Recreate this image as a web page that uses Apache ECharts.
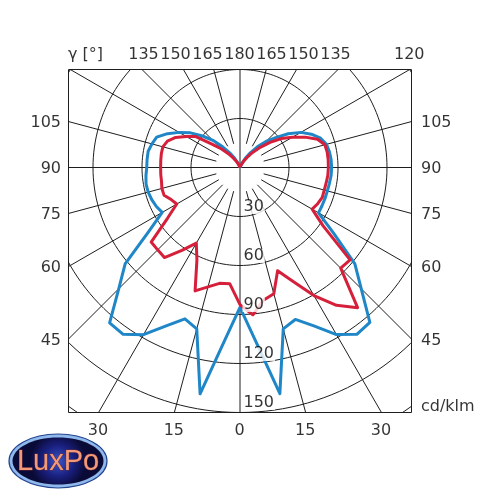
<!DOCTYPE html>
<html>
<head>
<meta charset="utf-8">
<script src="https://cdn.jsdelivr.net/npm/echarts@6/dist/echarts.min.js"></script>
<style>
html,body{margin:0;padding:0;background:#ffffff;}
#chart{width:500px;height:500px;}
</style>
</head>
<body>
<div id="chart"></div>
<script>
// ---- data (cd/klm vs gamma angle, degrees) ----
const gammaDeg = [0,5,10,15,20,25,30,35,40,45,50,55,60,65,70,75,80,85,90,95,100,105,110,115,120,125,130,135,140,145,150,155,160,165,170,175,180];
// blue plane, left half (C180) and right half (C0)
const blueLeft  = [85.7,106,140.7,102.3,98.6,107,118.2,124.7,124.2,105,91.8,68,55,56.5,57.5,58.2,58.4,57.8,57.1,57.1,57.1,55.8,54.3,49,43,37,30,23.5,16.5,11,6.5,3,1.5,0.5,0,0,0];
const blueRight = [85.7,106,140.6,102.3,99,107,118.1,124.7,123.7,105,91.8,69.8,55.5,55.4,55.4,55.4,55.6,56,56.1,56,55.6,54.8,52.5,48.2,43,36,28.5,22.5,16.5,11,6.5,3,1.5,0.5,0,0,0];
// red plane, left half (C270) and right half (C90)
const redLeft   = [84,71.5,72,75.7,80.4,62.4,53.5,62,72,71.3,71,54.2,44.7,46.5,49.5,49.5,48.8,48.7,48.6,48.7,48.9,48.9,47.3,43.5,38,33,22,16,11,7,4,2,1,0.3,0,0,0];
const redRight  = [84,90.5,82.5,80,67.3,77,90.5,103,112,87.2,88,62,51,52.5,53.6,53.4,53.6,54,54.1,54.2,54.2,53.8,50.5,44,37,31,24,17.5,12,7.5,4.5,2,1,0.3,0,0,0];

const ringValues = [30,60,90,120,150,180];
const ringLabelValues = [30,60,90,120,150];
const spokeAngles = [15,30,45,60,75,105,120,135,150,165,-15,-30,-45,-60,-75,-105,-120,-135,-150,-165];
const fullLineAngles = [0,90];
// signed angle labels on the frame edges (negative = left half)
const sideLabelAngles = [-45,-60,-75,-90,-105,45,60,75,90,105,-30,-15,0,15,30,120];
const topRowLabels = [135,150,165,180,165,150,135];
const unitLabel = 'cd/klm';
const angleTitle = 'γ [°]';

// frame in cd/klm units
const X_MIN = -105, X_MAX = 105, Y_MIN = -150, Y_MAX = 60;
const SPOKE_INNER = 15;
const TOP_PITCH = 32; // px between packed top labels

function toXY(thetaDeg, r) {
  const t = thetaDeg * Math.PI / 180;
  return [r * Math.sin(t), -r * Math.cos(t)];
}
function halfCurve(values, side) {
  return gammaDeg.map((g, i) => toXY(side * g, values[i]));
}
function edgePoint(theta) {
  const d = toXY(theta, 1);
  let t = Infinity, edge = 'top';
  if (d[0] > 1e-9) { const tt = X_MAX / d[0]; if (tt < t) { t = tt; edge = 'right'; } }
  if (d[0] < -1e-9) { const tt = X_MIN / d[0]; if (tt < t) { t = tt; edge = 'left'; } }
  if (d[1] > 1e-9) { const tt = Y_MAX / d[1]; if (tt < t - 1e-6) { t = tt; edge = 'top'; } }
  if (d[1] < -1e-9) { const tt = Y_MIN / d[1]; if (tt < t - 1e-6) { t = tt; edge = 'bottom'; } }
  return { pt: [d[0] * t, d[1] * t], edge };
}

const gridColor = '#1e1e1e';
const series = [];

ringValues.forEach(r => {
  const pts = [];
  for (let a = 0; a <= 360; a += 2) pts.push(toXY(a, r));
  series.push({ type: 'line', data: pts, symbol: 'none', silent: true, clip: true, z: 1,
    lineStyle: { color: gridColor, width: 1 } });
});
spokeAngles.forEach(a => {
  series.push({ type: 'line', data: [toXY(a, SPOKE_INNER), toXY(a, 500)], symbol: 'none', silent: true, clip: true, z: 1,
    lineStyle: { color: gridColor, width: 1 } });
});
fullLineAngles.forEach(a => {
  series.push({ type: 'line', data: [toXY(a, 500), toXY(a + 180, 500)], symbol: 'none', silent: true, clip: true, z: 1,
    lineStyle: { color: gridColor, width: 1 } });
});

const blueData = halfCurve(blueLeft, -1).reverse().concat(halfCurve(blueRight, 1));
const redData = halfCurve(redLeft, -1).reverse().concat(halfCurve(redRight, 1));
series.push({ type: 'line', name: 'C0-C180', data: blueData, symbol: 'none', clip: true, z: 3,
  lineStyle: { color: '#1f86c8', width: 3, join: 'round' } });
series.push({ type: 'line', name: 'C90-C270', data: redData, symbol: 'none', clip: true, z: 4,
  lineStyle: { color: '#d61f3a', width: 3, join: 'round' } });

const labelFont = { fontFamily: 'DejaVu Sans', fontSize: 16, color: '#000000' };
const edgeStyle = {
  top:    { align: 'center', verticalAlign: 'middle', position: [0, -14] },
  bottom: { align: 'center', verticalAlign: 'middle', position: [0, 19] },
  left:   { align: 'right',  verticalAlign: 'middle', position: [-7, 2] },
  right:  { align: 'left',   verticalAlign: 'middle', position: [10, 2] }
};
const labelData = [];
sideLabelAngles.forEach(a => {
  const e = edgePoint(a);
  labelData.push({ value: e.pt, label: Object.assign({ show: true, formatter: String(Math.abs(a)) }, labelFont, edgeStyle[e.edge]) });
});
const mid = (topRowLabels.length - 1) / 2;
topRowLabels.forEach((v, i) => {
  labelData.push({ value: [0, Y_MAX], label: Object.assign({ show: true, formatter: String(v) }, labelFont,
    { align: 'center', verticalAlign: 'middle', position: [(i - mid) * TOP_PITCH, -14] }) });
});
labelData.push({ value: [X_MIN, Y_MAX], label: Object.assign({ show: true, formatter: angleTitle }, labelFont,
  { align: 'left', verticalAlign: 'middle', position: [0, -14] }) });
labelData.push({ value: [X_MAX, Y_MIN], label: Object.assign({ show: true, formatter: unitLabel }, labelFont,
  { align: 'left', verticalAlign: 'middle', position: [10, -5] }) });
ringLabelValues.forEach(v => {
  labelData.push({ value: toXY(0, v), label: Object.assign({ show: true, formatter: String(v) }, labelFont,
    { align: 'left', verticalAlign: 'middle', position: [3, -9], backgroundColor: '#ffffff', lineHeight: 14, padding: [0, 1] }) });
});
series.push({ type: 'scatter', data: labelData, symbolSize: 1, clip: false, silent: true, z: 10,
  itemStyle: { color: 'rgba(0,0,0,0)' }, labelLayout: { hideOverlap: false } });

const chart = echarts.init(document.getElementById('chart'), null, { renderer: 'canvas' });
chart.setOption({
  animation: false,
  backgroundColor: '#ffffff',
  grid: { left: 68.5, top: 69.5, width: 343, height: 343, show: true, borderColor: '#1e1e1e', borderWidth: 1, backgroundColor: 'transparent' },
  xAxis: { type: 'value', min: X_MIN, max: X_MAX, show: false },
  yAxis: { type: 'value', min: Y_MIN, max: Y_MAX, show: false },
  series: series,
  graphic: [{
    type: 'group', x: 58, y: 461, children: [
      { type: 'ellipse', shape: { cx: 0, cy: 0, rx: 49, ry: 27 },
        style: { fill: '#8fb8ec', stroke: '#24448e', lineWidth: 1.2 } },
      { type: 'ellipse', shape: { cx: 0, cy: 0, rx: 45.5, ry: 23.5 },
        style: { fill: new echarts.graphic.RadialGradient(0.5, 0.5, 0.6, [
          { offset: 0, color: '#3a56c8' }, { offset: 0.55, color: '#1a2080' }, { offset: 1, color: '#0a0a36' }]) } },
      { type: 'text', style: { text: 'LuxPo', x: 0, y: 1, align: 'center', verticalAlign: 'middle',
        font: '29px "Liberation Sans"', fill: '#f29a78', stroke: '#6a2a3a', lineWidth: 0.8 } }
    ]
  }]
});
</script>
</body>
</html>
